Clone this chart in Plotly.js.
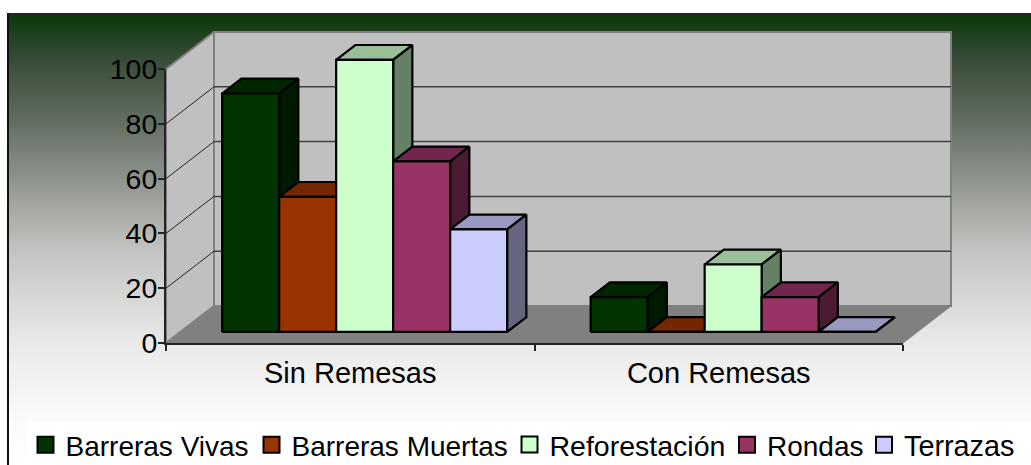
<!DOCTYPE html>
<html>
<head>
<meta charset="utf-8">
<script src="https://cdn.plot.ly/plotly-3.0.1.min.js"></script>
<style>
html,body{margin:0;padding:0;width:1031px;height:465px;overflow:hidden;background:#fff;}
#panel{position:absolute;left:7px;top:13px;width:1024px;height:452px;box-sizing:border-box;
border-left:2px solid #111;border-top:2px solid #222;
background:linear-gradient(to bottom,#0c380c 0px,#3a4d3a 47px,#636e62 107px,#a0a39e 187px,#c4c5c2 237px,#eaeaea 330px,#fbfbfb 407px,#ffffff 452px);}
#legendbg{position:absolute;left:27px;top:421px;width:1004px;height:44px;background:#fff;}
#chart{position:absolute;left:0;top:0;width:1031px;height:465px;}
</style>
</head>
<body>
<div id="panel"></div>
<div id="legendbg"></div>
<div id="chart"></div>
<script>
const categories = ["Sin Remesas", "Con Remesas"];
const seriesNames = ["Barreras Vivas", "Barreras Muertas", "Reforestación", "Rondas", "Terrazas"];
const barrerasVivas = [87, 12.7];
const barrerasMuertas = [49.3, 0];
const reforestacion = [99.3, 24.6];
const rondas = [62.2, 12.7];
const terrazas = [37.4, 0];
const seriesValues = [barrerasVivas, barrerasMuertas, reforestacion, rondas, terrazas];
const frontColors = ["#003300", "#993300", "#CCFFCC", "#993366", "#CCCCFF"];
const topColors = ["#002600", "#732600", "#99BF99", "#73264D", "#9999BF"];
const sideColors = ["#001A00", "#4D1A00", "#668066", "#4D1A33", "#666680"];
const yTicks = [0, 20, 40, 60, 80, 100];

// Page geometry of the front plane of the chart box
const W = 1031, H = 465;
const LEFT = 166, RIGHT = 903, BASE = 343, TOP = 69;
const PX_X = (RIGHT - LEFT) / 2, PX_Y = (BASE - TOP) / 100;
const xMin = -0.5, xMax = 1.5;

// Oblique projection, expressed in axis units
const DX = 48 / PX_X, DY = 37 / PX_Y;       // full floor depth
const BAR_W = 57 / PX_X;                    // bar width
const F = 0.3, B = 0.7;                     // bar front and back depth fractions
const FONT = "Liberation Sans, Arial, sans-serif";

const traces = [];
function poly(xs, ys, fill, lineColor, lineWidth, name) {
  traces.push({type: "scatter", mode: "lines", x: xs, y: ys, xaxis: "x", yaxis: "y",
    fill: fill ? "toself" : "none",
    fillcolor: fill || undefined, line: {color: lineColor, width: lineWidth, simplify: false},
    hoverinfo: "skip", showlegend: false, name: name || ""});
}

// Walls and floor
poly([xMin + DX, xMax + DX, xMax + DX, xMin + DX, xMin + DX], [DY, DY, 100 + DY, 100 + DY, DY], "#C0C0C0", "#808080", 2, "back wall");
poly([xMin, xMin + DX, xMin + DX, xMin, xMin], [0, DY, 100 + DY, 100, 0], "#C0C0C0", "#808080", 2, "side wall");
poly([xMin, xMax, xMax + DX, xMin + DX, xMin], [0, 0, DY, DY, 0], "#808080", "#808080", 1, "floor");

// Gridlines on the back wall and on the side wall
const gx = [], gy = [], sx = [], sy = [];
yTicks.slice(1, -1).forEach(v => {
  gx.push(xMin + DX, xMax + DX, null); gy.push(v + DY, v + DY, null);
  sx.push(xMin, xMin + DX, null); sy.push(v, v + DY, null);
});
poly(gx, gy, null, "#404040", 1.5, "grid");
poly(sx, sy, null, "#222222", 1, "side grid");

// Bars: top, side and front faces computed from the values
seriesValues.forEach((vals, s) => {
  const top = {x: [], y: []}, side = {x: [], y: []}, front = {x: [], y: []};
  vals.forEach((v, c) => {
    const x0 = c + (s - 2.5) * BAR_W + F * DX, x1 = x0 + BAR_W;
    const d = (B - F) * DX, e = (B - F) * DY, b = F * DY;
    top.x.push(x0, x1, x1 + d, x0 + d, x0, null);
    top.y.push(v + b, v + b, v + b + e, v + b + e, v + b, null);
    side.x.push(x1, x1 + d, x1 + d, x1, x1, null);
    side.y.push(b, b + e, v + b + e, v + b, b, null);
    front.x.push(x0, x1, x1, x0, x0, null);
    front.y.push(b, b, v + b, v + b, b, null);
  });
  poly(top.x, top.y, topColors[s], "#000", 2.2, seriesNames[s]);
  poly(side.x, side.y, sideColors[s], "#000", 2.2, seriesNames[s]);
  poly(front.x, front.y, frontColors[s], "#000", 2.2, seriesNames[s]);
});

// Legend: one key per series, each with its own placement. Keys live on the visible axes.
const legendLeft = [25.5, 251.5, 509.5, 727, 864];
const legendFont = [28, 28, 28.5, 28, 28.8];
const legendLayout = {};
seriesNames.forEach((n, s) => {
  const key = s === 0 ? "legend" : "legend" + (s + 1);
  traces.push({type: "scatter", mode: "markers", x: [null], y: [null], xaxis: "x2", yaxis: "y2",
    name: n, legend: key, showlegend: true, hoverinfo: "skip",
    marker: {symbol: "square", size: 16, color: frontColors[s], line: {color: "#000", width: 2}}});
  legendLayout[key] = {xref: "container", yref: "container", x: legendLeft[s] / W, y: 1 - 445 / H,
    xanchor: "left", yanchor: "middle", bgcolor: "rgba(0,0,0,0)", borderwidth: 0,
    font: {family: FONT, size: legendFont[s], color: "#000"}};
});

const layout = Object.assign({
  width: W, height: H,
  margin: {l: 0, r: 0, t: 0, b: 0, pad: 0, autoexpand: false},
  paper_bgcolor: "rgba(0,0,0,0)", plot_bgcolor: "rgba(0,0,0,0)",
  showlegend: true,
  // Hidden full-page axes with the same scale: they carry the projected faces
  xaxis: {visible: false, domain: [0, 1], anchor: "y",
    range: [xMin - LEFT / PX_X, xMin + (W - LEFT) / PX_X]},
  yaxis: {visible: false, domain: [0, 1], anchor: "x",
    range: [-(H - BASE) / PX_Y, BASE / PX_Y]},
  // Visible axes on the front plane
  xaxis2: {type: "linear", anchor: "y2", domain: [LEFT / W, RIGHT / W], range: [xMin, xMax],
    tickmode: "array", tickvals: categories.map((c, i) => i), ticktext: categories,
    ticks: "", showgrid: false, zeroline: false, showline: true, linecolor: "#222", linewidth: 2,
    tickfont: {family: FONT, size: 29, color: "#000"}, ticklabelstandoff: 3, automargin: false,
    minor: {tickmode: "array", tickvals: [xMin, 0.5, xMax], ticks: "outside", ticklen: 6, tickwidth: 1.5, tickcolor: "#222", showgrid: false}},
  yaxis2: {type: "linear", anchor: "x2", domain: [1 - BASE / H, 1 - TOP / H], range: [0, 100],
    tickmode: "array", tickvals: yTicks, ticks: "outside", ticklen: 6, tickwidth: 1.5, tickcolor: "#222",
    showgrid: false, zeroline: false, showline: true, linecolor: "#222", linewidth: 2,
    tickfont: {family: FONT, size: 28.5, color: "#000"}, ticklabelstandoff: -5, automargin: false}
}, legendLayout);

Plotly.newPlot("chart", traces, layout, {displayModeBar: false, responsive: false});
</script>
</body>
</html>
